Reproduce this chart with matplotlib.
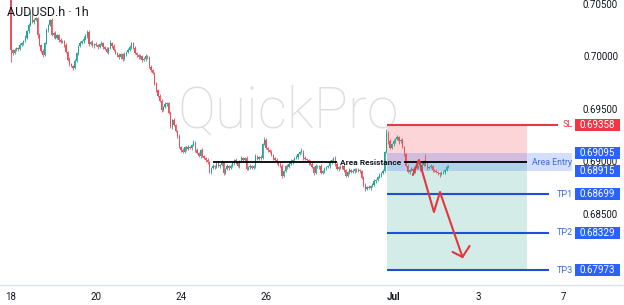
import matplotlib
matplotlib.use('Agg')
import matplotlib.pyplot as plt
from matplotlib.patches import Rectangle
from matplotlib.transforms import blended_transform_factory
import numpy as np

plt.rcParams['font.family'] = ['Roboto', 'DejaVu Sans']

# ---------------- data ----------------
base_price = 0.6800
pip = 0.0001
first_open_pips = 258
# hourly closes, in pips above 0.6800 (one row per trading day)
closes_pips = [
    207, 204, 207, 209, 208, 212, 214, 216, 219, 225, 231, 240, 234, 236, 238, 221, 212, 206, 202, 214, 226, 231, 236, 221,
    223, 219, 221, 217, 215, 216, 212, 205, 198, 194, 192, 190, 197, 204, 211, 214, 216, 218, 220, 224, 213, 215, 211, 213,
    212, 210, 213, 214, 210, 208, 205, 209, 214, 211, 207, 204, 202, 200, 203, 199, 203, 205, 207, 210, 214, 209, 204, 202,
    200, 201, 198, 199, 201, 200, 191, 188, 185, 175, 169, 163, 159, 150, 153, 156, 157, 147, 134, 140, 136, 130, 125, 115,
    112, 110, 115, 113, 115, 114, 117, 119, 112, 109, 106, 112, 106, 104, 102, 100, 91, 95, 97, 96, 99, 97, 98, 100,
    90, 94, 97, 95, 97, 100, 102, 100, 97, 101, 104, 102, 104, 94, 96, 97, 95, 97, 106, 103, 105, 104, 118, 121,
    114, 112, 110, 107, 104, 102, 100, 99, 97, 87, 92, 97, 96, 99, 101, 102, 104, 105, 108, 110, 111, 104, 103, 102,
    100, 99, 96, 90, 97, 96, 97, 90, 92, 94, 96, 97, 100, 102, 104, 99, 94, 96, 95, 97, 93, 87, 91, 93,
    91, 92, 94, 92, 93, 92, 85, 79, 75, 77, 76, 78, 79, 82, 83, 86, 88, 90, 92, 110, 128, 120, 114, 118,
    120, 122, 124, 120, 121, 115, 108, 97, 91, 93, 94, 92, 96, 95, 97, 94, 98, 101, 98, 95, 96, 97, 93, 92,
    91, 90, 89, 90, 91, 93, 96, 97,
]
upper_wick_pips = [
    4, 1, 2, 1, 1, 2, 1, 1, 2, 1, 2, 3, 1, 2, 1, 1, 2, 1, 2, 1, 2, 1, 1, 2,
    1, 2, 1, 1, 2, 1, 1, 2, 1, 2, 1, 1, 2, 1, 1, 2, 1, 2, 2, 2, 2, 1, 2, 1,
    2, 1, 1, 2, 1, 1, 2, 1, 3, 1, 2, 1, 1, 2, 1, 1, 2, 1, 2, 2, 1, 1, 2, 1,
    1, 2, 1, 1, 2, 1, 1, 2, 1, 1, 2, 1, 2, 1, 1, 2, 1, 1, 2, 1, 2, 1, 1, 2,
    1, 2, 1, 1, 2, 1, 1, 2, 1, 2, 1, 1, 2, 1, 1, 2, 1, 1, 2, 1, 1, 2, 1, 2,
    1, 1, 2, 1, 2, 1, 1, 2, 1, 1, 2, 1, 1, 2, 1, 2, 1, 1, 2, 1, 1, 2, 1, 3,
    2, 1, 1, 2, 1, 1, 2, 1, 1, 2, 1, 1, 2, 1, 2, 1, 1, 2, 1, 1, 3, 1, 2, 1,
    1, 2, 1, 1, 2, 1, 1, 2, 1, 2, 1, 1, 2, 1, 1, 2, 1, 1, 2, 1, 2, 1, 1, 2,
    1, 2, 1, 1, 2, 1, 1, 2, 1, 1, 2, 1, 1, 2, 1, 1, 2, 1, 2, 1, 4, 2, 2, 1,
    2, 1, 2, 1, 1, 2, 1, 1, 2, 1, 2, 1, 1, 2, 1, 1, 2, 1, 7, 2, 1, 2, 1, 1,
    2, 1, 1, 2, 1, 1, 2, 1,
]
lower_wick_pips = [
    11, 2, 1, 1, 2, 1, 1, 2, 1, 1, 2, 1, 1, 2, 1, 2, 1, 2, 2, 1, 1, 2, 1, 1,
    2, 1, 1, 2, 1, 1, 2, 1, 1, 2, 1, 2, 1, 1, 2, 1, 1, 2, 1, 1, 2, 1, 1, 2,
    1, 2, 1, 1, 2, 1, 1, 2, 1, 2, 1, 1, 2, 1, 1, 2, 1, 2, 1, 1, 2, 1, 1, 2,
    1, 1, 2, 1, 2, 1, 1, 2, 1, 1, 2, 1, 1, 2, 1, 1, 2, 1, 1, 2, 1, 1, 2, 1,
    2, 1, 1, 2, 1, 1, 2, 1, 2, 1, 1, 2, 1, 1, 2, 1, 1, 2, 1, 2, 1, 1, 2, 1,
    2, 1, 1, 2, 1, 1, 2, 1, 1, 2, 1, 1, 2, 1, 1, 2, 1, 1, 2, 1, 1, 2, 1, 1,
    1, 2, 1, 1, 2, 1, 1, 2, 1, 2, 1, 1, 2, 1, 1, 2, 1, 1, 2, 1, 1, 2, 1, 1,
    2, 1, 1, 2, 1, 1, 2, 1, 1, 2, 1, 1, 2, 1, 1, 2, 1, 2, 1, 1, 2, 1, 1, 2,
    1, 1, 2, 1, 1, 2, 1, 2, 2, 1, 1, 2, 1, 1, 2, 1, 1, 2, 1, 1, 1, 2, 1, 1,
    2, 1, 1, 2, 1, 1, 2, 1, 1, 2, 1, 1, 2, 1, 1, 2, 1, 1, 1, 2, 1, 1, 2, 1,
    1, 2, 3, 1, 1, 2, 1, 1,
]

tick_bars = [0, 48, 96, 144, 216, 264, 312]
tick_labels = ['18', '20', '24', '26', 'Jul', '3', '7']
price_ticks = [0.70500, 0.70000, 0.69500, 0.69000, 0.68500]

entry_price = 0.69000
stop_loss = 0.69358
zone_top = 0.69095
zone_bottom = 0.68915
tp_levels = [0.68699, 0.68329, 0.67973]
tp_names = ['TP1', 'TP2', 'TP3']

# arrow path (bar index, price)
arrow_bars = [226.9, 230.3, 238.8, 242.2, 254.9]
arrow_prices = [0.68881, 0.69024, 0.68529, 0.68719, 0.68100]

# ---------------- build candles ----------------
closes = base_price + np.array(closes_pips) * pip
opens = np.concatenate([[base_price + first_open_pips * pip], closes[:-1]])
highs = np.maximum(opens, closes) + np.array(upper_wick_pips) * pip
lows = np.minimum(opens, closes) - np.array(lower_wick_pips) * pip
idx = np.arange(len(closes))

UP = '#22a596'
DOWN = '#ef4f5a'
cols = [UP if c >= o else DOWN for o, c in zip(opens, closes)]

fig = plt.figure(figsize=(6.24, 3.05), dpi=100)
ax = fig.add_axes([0, 20 / 305, 1, 285 / 305])
ax.set_xlim(-6.21, 346.1)
ax.set_ylim(0.678333, 0.705476)

# watermark
ax.text(156.5, 0.69481, 'QuickPro', fontsize=41, color='#dedede', ha='center', va='center',
        fontweight='light', zorder=0.1)

# position tool zones
x0, x1 = 212.3, 291.4
ax.add_patch(Rectangle((x0, entry_price), x1 - x0, stop_loss - entry_price, fc='#fbd5d8', ec='none', zorder=0.5))
ax.add_patch(Rectangle((x0, tp_levels[-1]), x1 - x0, entry_price - tp_levels[-1], fc='#d3ece8', ec='none', zorder=0.5))
ax.add_patch(Rectangle((x0, zone_bottom), 317 - x0, zone_top - zone_bottom, fc=(41 / 255, 98 / 255, 1, 0.2),
                       ec='none', zorder=0.6))

# candles
ax.vlines(idx, lows, highs, colors=cols, linewidth=0.6, zorder=2)
heights = np.maximum(np.abs(closes - opens), 0.3 * pip)
ax.bar(idx, heights, bottom=np.minimum(opens, closes), width=0.7, color=cols, linewidth=0, zorder=2.1)

# area resistance line
ax.hlines(entry_price, 114, 184, color='black', lw=1.3, zorder=3)
ax.hlines(entry_price, 222, x1, color='black', lw=1.3, zorder=3)
ax.text(203, entry_price, 'Area Resistance', fontsize=6, fontweight='bold', ha='center', va='center',
        color='#131722', zorder=3)
ax.text(294, entry_price, 'Area Entry', fontsize=6.3, ha='left', va='center', color='#3f6fd8', zorder=3)

# SL and TP lines
ax.hlines(stop_loss, x0, 309, color='#e23a47', lw=1.5, zorder=3)
ax.text(317.3, stop_loss, 'SL', fontsize=6.6, ha='right', va='center', color='#e23a47', zorder=3)
for lvl, name in zip(tp_levels, tp_names):
    ax.hlines(lvl, x0, 304, color='#1f4fd6', lw=1.5, zorder=3)
    ax.text(317.3, lvl, name, fontsize=6.6, ha='right', va='center', color='#3f6fd8', zorder=3)

# arrow
ax.plot(arrow_bars, arrow_prices, color='#e5363f', lw=1.5, zorder=4, solid_capstyle='round')
tip_b, tip_p = arrow_bars[-1], arrow_prices[-1]
ax.plot([249.3, tip_b, 258.9], [0.68148, tip_p, 0.68205], color='#e5363f', lw=1.5, zorder=4,
        solid_capstyle='round', solid_joinstyle='miter')

# right price scale
bt = blended_transform_factory(ax.transAxes, ax.transData)
for p in price_ticks:
    ax.text(618 / 624, p, f'{p:.5f}', transform=bt,
            fontsize=7, ha='right', va='center', color='#131722', zorder=5)

box_h = 12 / 10500
labels = [(stop_loss, '#f23645'), (zone_top, '#2962ff'), (zone_bottom, '#2962ff')] + \
         [(lvl, '#2962ff') for lvl in tp_levels]
for lvl, col in labels:
    ax.add_patch(Rectangle((575 / 624, lvl - box_h / 2), 45 / 624, box_h, transform=bt, fc=col, ec='none',
                           zorder=6, clip_on=False))
    ax.text(597.5 / 624, lvl, f'{lvl:.5f}', transform=bt, fontsize=7, ha='center', va='center',
            color='white', zorder=7)

# x axis
ax.set_xticks(tick_bars)
ax.set_xticklabels(tick_labels)
ax.tick_params(axis='x', length=0, pad=5, labelsize=7, colors='#131722')
ax.get_xticklabels()[4].set_fontweight('bold')
ax.set_yticks([])
for s in ['top', 'right', 'left']:
    ax.spines[s].set_visible(False)
ax.spines['bottom'].set_color('#e0e3eb')
ax.spines['bottom'].set_linewidth(1.0)

fig.text(7 / 624, 1 - 12 / 305, 'AUDUSD.h · 1h', fontsize=9, va='center', ha='left', color='#131722')

fig.savefig('out.png', dpi=100, facecolor='white')
